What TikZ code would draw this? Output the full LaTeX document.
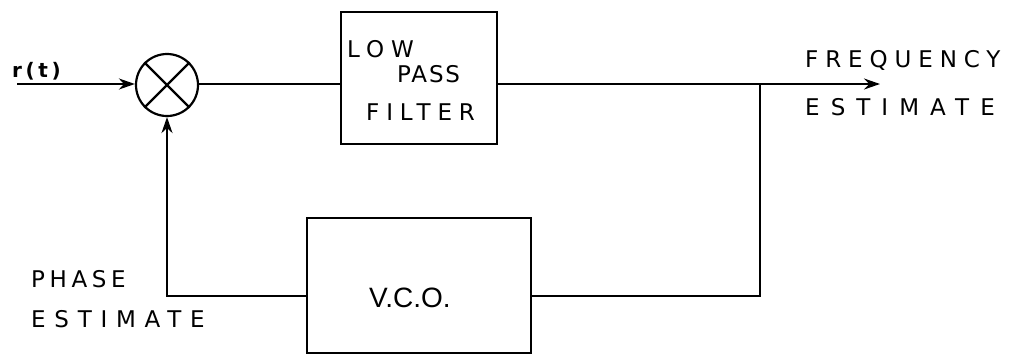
\documentclass[tikz,border=0pt]{standalone}
\usepackage{fontspec}
\setmainfont{DejaVu Sans}
\newfontfamily\handA[LetterSpace=20]{DejaVu Sans}
\newfontfamily\handB[LetterSpace=30]{DejaVu Sans}
\newfontfamily\handC[LetterSpace=38]{DejaVu Sans}
\newfontfamily\handD[LetterSpace=48]{DejaVu Sans}
\newfontfamily\handn[LetterSpace=8]{DejaVu Sans}
\newfontfamily\handr[LetterSpace=18]{DejaVu Sans}
\newfontfamily\thin{Liberation Sans}
\usetikzlibrary{arrows.meta}
\begin{document}
\begin{tikzpicture}[x=1pt,y=-1pt,
  wire/.style={line width=2.2pt,line join=miter},
  arr/.style={wire,-{Stealth[length=16pt,width=11pt]}},
  lab/.style={inner sep=0pt,anchor=base west},
  fa/.style={font=\handA\fontsize{23}{26}\selectfont},
  fb/.style={font=\handB\fontsize{23}{26}\selectfont},
  fc/.style={font=\handC\fontsize{23}{26}\selectfont},
  fd/.style={font=\handD\fontsize{23}{26}\selectfont},
  fn/.style={font=\handn\fontsize{23}{26}\selectfont}]
\useasboundingbox (0,0) rectangle (1015,362);
% blocks
\node[draw,circle,line width=2.2pt,minimum size=62pt,inner sep=0pt] (mix) at (167,85) {};
\draw[wire] (mix.north west) -- (mix.south east);
\draw[wire] (mix.north east) -- (mix.south west);
\node[draw,line width=2.2pt,minimum width=156pt,minimum height=132pt,inner sep=0pt] (lpf) at (419,78) {};
\node[draw,line width=2.2pt,minimum width=224pt,minimum height=135pt,inner sep=0pt] (vco) at (419,285.5) {};
% coordinates
\coordinate (in) at (17,84);
\coordinate (j) at (760,84);
\coordinate (out) at (880,84);
\coordinate (c1) at (167,296);
\coordinate (c2) at (760,296);
% connectors
\draw[arr] (in) -- (mix.west |- in);
\draw[wire] (mix.east |- in) -- (lpf.west |- in);
\draw[arr] (lpf.east |- j) -- (out);
\draw[wire] (j) -- (c2) -- (vco.east |- c2);
\draw[arr] (vco.west |- c1) -- (c1) -- (mix.south);
% labels
\node[lab,font=\handr\bfseries\fontsize{20}{22}\selectfont] (rt) at (12,77) {r(t)};
\node[lab,fb] (low) at (347,57) {LOW};
\node[lab,fn] (pass) at (397,82) {PASS};
\node[lab,fb] (filt) at (366,120) {FILTER};
\node[lab,fb] (freq) at (805,67) {FREQUENCY};
\node[lab,fd] (est1) at (805,115) {ESTIMATE};
\node[lab,fa] (phase) at (31,287) {PHASE};
\node[lab,fc] (est2) at (31,327) {ESTIMATE};
\node[lab,font=\thin\fontsize{28}{30}\selectfont] (vcot) at (369,307) {V.C.O.};
\end{tikzpicture}
\end{document}
